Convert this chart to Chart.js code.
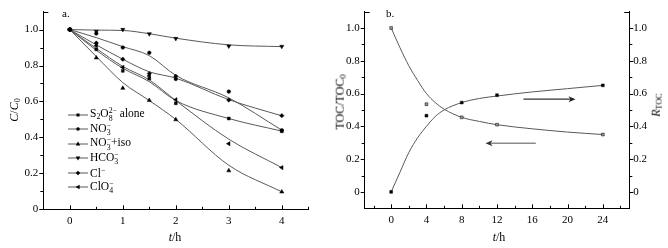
<!DOCTYPE html>
<html><head><meta charset="utf-8">
<script src="https://cdn.jsdelivr.net/npm/chart.js@4.4.1/dist/chart.umd.min.js"></script>
<style>
html,body{margin:0;padding:0;background:#fff;}
#wrap{position:relative;width:668px;height:248px;overflow:hidden;font-family:"Liberation Serif","Times New Roman",serif;color:#000;}
.panel{position:absolute;top:0;width:334px;height:248px;}
.lbl{position:absolute;font-size:12px;line-height:1;white-space:nowrap;}
.rot{transform:translate(-50%,-50%) rotate(-90deg);}
.ctr{transform:translate(-50%,-50%);}
.sub{font-size:0.68em;vertical-align:-0.3em;}
.sup{font-size:0.68em;vertical-align:0.45em;}
.ss{display:inline-block;vertical-align:middle;font-size:0.68em;line-height:0.95;text-align:left;}
.ss>span{display:block;}
#legend{position:absolute;left:68px;top:0;font-size:11.5px;}
.row{position:absolute;left:0;height:14px;display:flex;align-items:center;white-space:nowrap;}
.row svg{width:21px;height:8px;margin-right:1px;}
</style>
</head><body>
<div id="wrap">
  <div class="panel" style="left:0"><canvas id="ca"></canvas></div>
  <div class="panel" style="left:334px"><canvas id="cb"></canvas></div>
  <div class="lbl" style="left:62px;top:8px;font-size:11px;">a.</div>
  <div class="lbl" style="left:386px;top:8px;font-size:11px;">b.</div>
  <div class="lbl rot" style="left:15px;top:110px;"><i>C</i>/<i>C</i><span class="sub">0</span></div>
  <div class="lbl ctr" style="left:175px;top:237px;"><i>t</i>/h</div>
  <div class="lbl ctr" style="left:499px;top:237px;"><i>t</i>/h</div>
  <div class="lbl rot" style="left:341px;top:102px;">TOC/TOC<span class="sub">0</span></div>
  <div class="lbl rot" style="left:657px;top:105px;"><i>R</i><span class="sub">TOC</span></div>
  <div id="legend"></div>
</div>
<script>
// ---------- panel a data ----------
const timeA = [0, 0.5, 1, 1.5, 2, 3, 4];
const s2o8Pts = [1.0, 0.89, 0.77, 0.727, 0.59, 0.505, 0.434];
const s2o8Fit = [1.0, 0.885, 0.785, 0.71, 0.605, 0.505, 0.435];
const no3Pts  = [1.0, 0.978, 0.90, 0.871, 0.725, 0.655, 0.44];
const no3Fit  = [1.0, 0.955, 0.905, 0.855, 0.745, 0.62, 0.44];
const isoPts  = [1.0, 0.843, 0.674, 0.606, 0.499, 0.215, 0.097];
const isoFit  = [1.0, 0.85, 0.705, 0.605, 0.50, 0.245, 0.097];
const hco3Pts = [1.0, 0.99, 1.0, 0.976, 0.95, 0.908, 0.906];
const hco3Fit = [1.0, 0.997, 0.995, 0.977, 0.952, 0.915, 0.905];
const clPts   = [1.0, 0.925, 0.835, 0.755, 0.74, 0.608, 0.521];
const clFit   = [1.0, 0.915, 0.835, 0.765, 0.73, 0.61, 0.52];
const clo4Pts = [1.0, 0.91, 0.79, 0.742, 0.61, 0.365, 0.232];
const clo4Fit = [1.0, 0.895, 0.795, 0.72, 0.605, 0.39, 0.232];
const seriesNames = [
  'S<sub class="sub">2</sub>O<span class="ss"><span>2\u2212</span><span>8</span></span> alone',
  'NO<span class="ss"><span>\u2212</span><span>3</span></span>',
  'NO<span class="ss"><span>\u2212</span><span>3</span></span>+iso',
  'HCO<span class="ss"><span>\u2212</span><span>3</span></span>',
  'Cl<span class="sup">\u2212</span>',
  'ClO<span class="ss"><span>\u2212</span><span>4</span></span>'
];
const xTicksA = [0, 1, 2, 3, 4];
const xTickLabelsA = ['0', '1', '2', '3', '4'];
const xMinorA = [-0.5, 0.5, 1.5, 2.5, 3.5, 4.5];
const yTicksA = [0, 0.2, 0.4, 0.6, 0.8, 1.0];
const yTickLabelsA = ['0', '0.2', '0.4', '0.6', '0.8', '1.0'];
const yMinorA = [0.1, 0.3, 0.5, 0.7, 0.9];

// ---------- panel b data ----------
const timeB = [0, 4, 8, 12, 24];
const tocPts = [1.0, 0.535, 0.455, 0.41, 0.35];
const rtocPts = [0.0, 0.465, 0.545, 0.59, 0.65];
const timeBFit = [0, 1, 2, 3, 4, 5, 6, 8, 10, 12, 16, 20, 24];
const tocFit  = [1.0, 0.88, 0.77, 0.68, 0.60, 0.545, 0.505, 0.455, 0.43, 0.41, 0.385, 0.365, 0.35];
const rtocFit = [0.0, 0.12, 0.24, 0.33, 0.40, 0.46, 0.50, 0.545, 0.57, 0.585, 0.61, 0.63, 0.65];
const xTicksB = [0, 4, 8, 12, 16, 20, 24];
const xTickLabelsB = ['0', '4', '8', '12', '16', '20', '24'];
const xMinorB = [-2, 2, 6, 10, 14, 18, 22, 26];
const yTicksB = [0, 0.2, 0.4, 0.6, 0.8, 1.0];
const yTickLabelsB = ['0', '0.2', '0.4', '0.6', '0.8', '1.0'];
const yMinorB = [0.1, 0.3, 0.5, 0.7, 0.9];
const arrowsB = [
  {from: [15.0, 0.566], to: [20.9, 0.566], line: '#333', head: '#222'},
  {from: [16.4, 0.297], to: [10.7, 0.297], line: '#8c8c8c', head: '#333'}
];

// ---------- styles ----------
const FONT = {family: '"Liberation Serif","Times New Roman",serif', size: 11};
const LINE = '#595959';
const markerStyles = [
  {style: 'rect', rot: 0, r: 2.0},
  {style: 'circle', rot: 0, r: 1.8},
  {style: 'triangle', rot: 0, r: 2.4},
  {style: 'triangle', rot: 180, r: 2.4},
  {style: 'rectRot', rot: 0, r: 2.2},
  {style: 'triangle', rot: -90, r: 2.4}
];

const pair = (xs, ys) => xs.map((x, i) => ({x, y: ys[i]}));

const tickMarks = {
  id: 'tickMarks',
  afterDraw(chart, args, opts) {
    const ctx = chart.ctx, ca = chart.chartArea;
    ctx.save();
    ctx.strokeStyle = '#000';
    ctx.lineWidth = 1;
    for (const m of opts.marks) {
      const sc = chart.scales[m.axis];
      for (const v of m.values) {
        const p = Math.round(sc.getPixelForValue(v)) + 0.5;
        ctx.beginPath();
        if (sc.isHorizontal()) {
          const b = ca.bottom;
          const d = m.side === 'in' ? -m.len : m.len;
          ctx.moveTo(p, b); ctx.lineTo(p, b + d);
        } else {
          const isRight = sc.position === 'right';
          const x0 = isRight ? ca.right : ca.left;
          let d = m.side === 'in' ? m.len : -m.len;
          if (isRight) d = -d;
          ctx.moveTo(x0, p); ctx.lineTo(x0 + d, p);
        }
        ctx.stroke();
      }
    }
    ctx.restore();
  }
};

const arrowPlugin = {
  id: 'arrows',
  afterDatasetsDraw(chart, args, opts) {
    const ctx = chart.ctx, xs = chart.scales.x, ys = chart.scales.y;
    ctx.save();
    for (const a of opts.list) {
      const x1 = xs.getPixelForValue(a.from[0]), y1 = ys.getPixelForValue(a.from[1]);
      const x2 = xs.getPixelForValue(a.to[0]), y2 = ys.getPixelForValue(a.to[1]);
      const dir = Math.sign(x2 - x1);
      ctx.strokeStyle = a.line; ctx.lineWidth = 1.4;
      ctx.beginPath(); ctx.moveTo(x1, y1); ctx.lineTo(x2 - dir * 4, y2); ctx.stroke();
      ctx.fillStyle = a.head;
      ctx.beginPath();
      ctx.moveTo(x2, y2); ctx.lineTo(x2 - dir * 7, y2 - 3); ctx.lineTo(x2 - dir * 5, y2); ctx.lineTo(x2 - dir * 7, y2 + 3);
      ctx.closePath(); ctx.fill();
    }
    ctx.restore();
  }
};

function lineDs(data, yAxisID) {
  return {data, borderColor: LINE, borderWidth: 1, pointRadius: 0, fill: false,
    cubicInterpolationMode: 'monotone', yAxisID: yAxisID || 'y', order: 2};
}
function ptDs(data, m, bg, yAxisID) {
  return {data, showLine: false, pointStyle: m.style, pointRotation: m.rot, pointRadius: m.r,
    pointBackgroundColor: bg || '#000', pointBorderColor: '#000', pointBorderWidth: 0.5,
    yAxisID: yAxisID || 'y', order: 1};
}
function axisTicks(vals, labels, pad) {
  return {
    afterBuildTicks: s => { s.ticks = vals.map(v => ({value: v})); },
    ticks: {callback: (v, i) => labels[i], font: FONT, color: '#000', padding: pad,
      autoSkip: false, maxRotation: 0, minRotation: 0},
    grid: {display: false, drawTicks: false},
    border: {display: true, color: '#000', width: 1}
  };
}

Chart.defaults.animation = false;
Chart.defaults.devicePixelRatio = 1;

// ---------- chart a ----------
const fitsA = [s2o8Fit, no3Fit, isoFit, hco3Fit, clFit, clo4Fit];
const ptsA = [s2o8Pts, no3Pts, isoPts, hco3Pts, clPts, clo4Pts];
const dsA = [];
fitsA.forEach(f => dsA.push(lineDs(pair(timeA, f))));
ptsA.forEach((p, i) => dsA.push(ptDs(pair(timeA, p), markerStyles[i])));

new Chart(document.getElementById('ca'), {
  type: 'line',
  data: {datasets: dsA},
  options: {
    responsive: true, maintainAspectRatio: false,
    layout: {padding: {top: 10.7, right: 25.7, left: 0, bottom: 0}},
    plugins: {legend: {display: false}, tooltip: {enabled: false},
      tickMarks: {marks: [
        {axis: 'x', values: xTicksA, side: 'in', len: 4},
        {axis: 'x', values: xMinorA, side: 'in', len: 2.5},
        {axis: 'y', values: yTicksA, side: 'out', len: 4},
        {axis: 'y', values: yMinorA, side: 'out', len: 3},
        {axis: 'y', values: [1.1], side: 'in', len: 5}
      ]}},
    scales: {
      x: Object.assign({type: 'linear', min: -0.5, max: 4.5, afterFit: s => { s.height = 38.7; }},
        axisTicks(xTicksA, xTickLabelsA, 5)),
      y: Object.assign({type: 'linear', min: 0, max: 1.1, afterFit: s => { s.width = 43.3; }},
        axisTicks(yTicksA, yTickLabelsA, 5))
    }
  },
  plugins: [tickMarks]
});

// ---------- chart b ----------
const dsB = [
  lineDs(pair(timeBFit, tocFit), 'y'),
  lineDs(pair(timeBFit, rtocFit), 'y2'),
  ptDs(pair(timeB, tocPts), {style: 'rect', rot: 0, r: 2.0}, '#999', 'y'),
  ptDs(pair(timeB, rtocPts), {style: 'rect', rot: 0, r: 2.0}, '#000', 'y2')
];
new Chart(document.getElementById('cb'), {
  type: 'line',
  data: {datasets: dsB},
  options: {
    responsive: true, maintainAspectRatio: false,
    layout: {padding: {top: 10, right: 0, left: 0, bottom: 0}},
    plugins: {legend: {display: false}, tooltip: {enabled: false},
      arrows: {list: arrowsB},
      tickMarks: {marks: [
        {axis: 'x', values: xTicksB, side: 'in', len: 4},
        {axis: 'x', values: xMinorB, side: 'in', len: 2.5},
        {axis: 'y', values: yTicksB, side: 'out', len: 4},
        {axis: 'y', values: yMinorB, side: 'out', len: 3},
        {axis: 'y', values: [1.1], side: 'in', len: 5},
        {axis: 'y2', values: yTicksB, side: 'out', len: 4},
        {axis: 'y2', values: yMinorB, side: 'out', len: 3},
        {axis: 'y2', values: [1.1], side: 'in', len: 5}
      ]}},
    scales: {
      x: Object.assign({type: 'linear', min: -3, max: 27, afterFit: s => { s.height = 39.7; }},
        axisTicks(xTicksB, xTickLabelsB, 5)),
      y: Object.assign({type: 'linear', position: 'left', min: -0.1, max: 1.1, afterFit: s => { s.width = 30.7; }},
        axisTicks(yTicksB, yTickLabelsB, 5)),
      y2: Object.assign({type: 'linear', position: 'right', min: -0.1, max: 1.1, afterFit: s => { s.width = 38.7; }},
        axisTicks(yTicksB, yTickLabelsB, 4))
    }
  },
  plugins: [tickMarks, arrowPlugin]
});

// ---------- legend (panel a) ----------
function markerSvg(i) {
  const shapes = [
    '<rect x="8.5" y="2.5" width="3" height="3"/>',
    '<circle cx="10" cy="4" r="1.8"/>',
    '<polygon points="10,1.6 12.3,5.6 7.7,5.6"/>',
    '<polygon points="10,6.4 12.3,2.4 7.7,2.4"/>',
    '<polygon points="10,1.7 12.3,4 10,6.3 7.7,4"/>',
    '<polygon points="7.6,4 11.6,1.7 11.6,6.3"/>'
  ];
  return '<svg viewBox="0 0 21 8"><line x1="0" y1="4" x2="20" y2="4" stroke="' + LINE + '" stroke-width="1"/>' +
    '<g fill="#000">' + shapes[i] + '</g></svg>';
}
const legendRowCenters = [114.5, 129, 143.5, 158, 172.5, 187];
const leg = document.getElementById('legend');
seriesNames.forEach((n, i) => {
  const d = document.createElement('div');
  d.className = 'row';
  d.style.top = (legendRowCenters[i] - 7) + 'px';
  d.innerHTML = markerSvg(i) + '<span>' + n + '</span>';
  leg.appendChild(d);
});
</script>
</body></html>
